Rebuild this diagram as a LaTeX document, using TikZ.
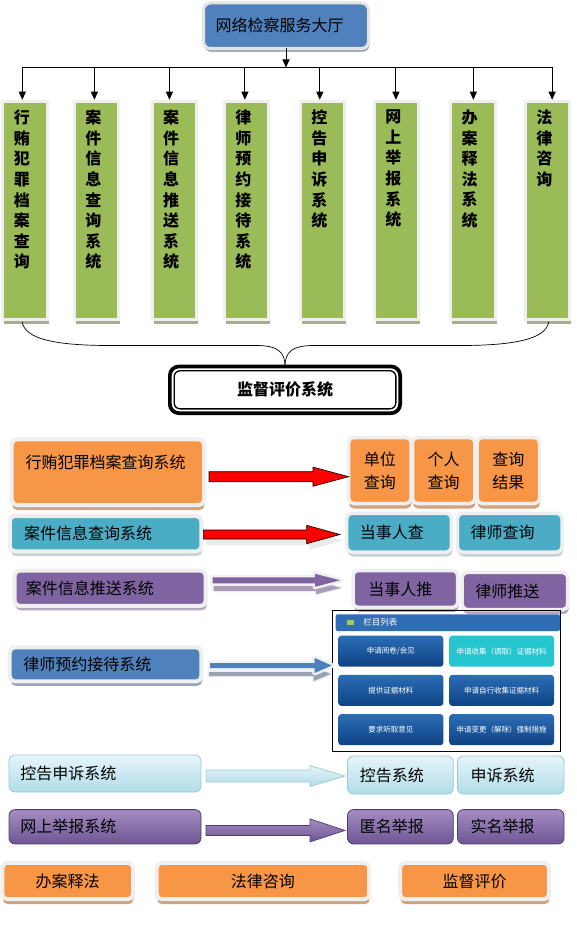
\documentclass[tikz,border=0pt]{standalone}
\usepackage{fontspec}
\setmainfont{Noto Sans CJK SC}
\usetikzlibrary{calc,shadows,arrows.meta}

\definecolor{cblue}{HTML}{4F81BD}
\definecolor{cgreen}{HTML}{9BBB59}
\definecolor{corange}{HTML}{F79646}
\definecolor{cteal}{HTML}{4BACC6}
\definecolor{cpurple}{HTML}{8064A2}
\definecolor{cframe}{HTML}{EFEFEF}
\definecolor{topframe}{HTML}{E4E4E4}
\definecolor{topshadow}{HTML}{A7AFBF}
\definecolor{gshadow}{HTML}{A8AE8F}
\definecolor{oshadow}{HTML}{D3A17B}
\definecolor{tshadow}{HTML}{C4D3D8}
\definecolor{pshadow}{HTML}{B3A9C0}
\definecolor{bshadow}{HTML}{98A4B8}
\definecolor{ltop}{HTML}{E6F5F9}
\definecolor{lbot}{HTML}{B0DCE8}
\definecolor{ledge}{HTML}{9CC8D6}
\definecolor{ptop}{HTML}{A38DC2}
\definecolor{pbot}{HTML}{6F5694}
\definecolor{pedge}{HTML}{4E3C6C}
\definecolor{btop}{HTML}{2B6DB6}
\definecolor{bbot}{HTML}{0E4283}
\definecolor{bcyan}{HTML}{25C6CF}
\definecolor{hbar}{HTML}{2F6DB5}
\definecolor{icongreen}{HTML}{A4C85A}
\definecolor{parrsh}{HTML}{A99CB8}
\definecolor{barrsh}{HTML}{98A2B4}
\definecolor{arrgrey}{HTML}{EBEBEB}
\definecolor{arrframe}{HTML}{F0F0F0}

% #1 style, #2 start, #3 end, #4 shaft half, #5 head half, #6 head length
\newcommand\barrow[6]{%
  \path[#1] let \p1=(#2), \p2=(#3) in
    (\x1,\y1-#4pt) -- (\x2-#6pt,\y1-#4pt) -- (\x2-#6pt,\y1-#5pt) -- (\x2,\y1)
    -- (\x2-#6pt,\y1+#5pt) -- (\x2-#6pt,\y1+#4pt) -- (\x1,\y1+#4pt) -- cycle;}

\tikzset{
  every node/.style={inner sep=0pt, outer sep=0pt},
  txt/.style={font=\fontsize{16}{20}\selectfont},
  col/.style={draw=cframe, line width=3pt, fill=cgreen, minimum width=44.5pt,
    minimum height=217.7pt,
    drop shadow={shadow xshift=1.5pt, shadow yshift=-4.5pt, fill=gshadow, opacity=1}},
  coltxt/.style={anchor=north, align=center, font=\fontsize{16}{20.6}\selectfont\bfseries},
  fbox/.style={draw=cframe, line width=4pt, rounded corners=5pt, txt},
  sbox/.style={draw=cframe, line width=3.5pt, rounded corners=5pt, txt},
  lbox/.style={align=left, txt},
  oshad/.style={drop shadow={shadow xshift=0.5pt, shadow yshift=-5pt, fill=oshadow, opacity=1}},
  tshad/.style={drop shadow={shadow xshift=1pt, shadow yshift=-4.5pt, fill=tshadow, opacity=1}},
  pshad/.style={drop shadow={shadow xshift=1pt, shadow yshift=-4.5pt, fill=pshadow, opacity=1}},
  bshad/.style={drop shadow={shadow xshift=1pt, shadow yshift=-4.5pt, fill=bshadow, opacity=1}},
  lightbox/.style={draw=ledge, line width=0.8pt, rounded corners=6pt, top color=ltop, bottom color=lbot, txt},
  purbox/.style={draw=pedge, line width=0.8pt, rounded corners=6pt, top color=ptop, bottom color=pbot, txt},
  carr/.style={line width=0.9pt, -{Triangle[width=7pt,length=8pt]}},
  afr/.style={fill=arrframe, draw=arrframe, line join=round, line width=#1},
  pbtn/.style={rounded corners=3pt, top color=btop, bottom color=bbot, text=white,
    minimum height=31pt, font=\fontsize{7.5}{9}\selectfont},
}

\begin{document}
\begin{tikzpicture}[x=1pt,y=-1pt]
\fill[white] (0,0) rectangle (576,931);
\useasboundingbox (0,0) rectangle (576,931);

% ---------- top ----------
\node[draw=topframe, line width=3pt, rounded corners=7pt, fill=cblue, text width=141pt,
  inner xsep=12pt, minimum height=45.5pt, align=left, txt,
  drop shadow={shadow xshift=1pt, shadow yshift=-3.5pt, fill=topshadow, opacity=1}]
  (top) at (286,25.75) {网络检察服务大厅};

\coordinate (hl) at (0,67.5);

\foreach \n/\x in {1/25.15, 2/96.65, 3/174.5, 4/246.65, 5/322.65, 6/396.65, 7/472.8, 8/547.65}
  \node[col] (c\n) at (\x,210.6) {};

\node[coltxt] (c1t) at ($(c1.north)+(-3.3,8.2)$) {行\\贿\\犯\\罪\\档\\案\\查\\询};
\node[coltxt] (c2t) at ($(c2.north)+(-3.3,8.2)$) {案\\件\\信\\息\\查\\询\\系\\统};
\node[coltxt] (c3t) at ($(c3.north)+(-3.3,8.2)$) {案\\件\\信\\息\\推\\送\\系\\统};
\node[coltxt] (c4t) at ($(c4.north)+(-3.3,8.2)$) {律\\师\\预\\约\\接\\待\\系\\统};
\node[coltxt] (c5t) at ($(c5.north)+(-3.3,8.2)$) {控\\告\\申\\诉\\系\\统};
\node[coltxt] (c6t) at ($(c6.north)+(-3.3,8.2)$) {网\\上\\举\\报\\系\\统};
\node[coltxt] (c7t) at ($(c7.north)+(-3.3,8.2)$) {办\\案\\释\\法\\系\\统};
\node[coltxt] (c8t) at ($(c8.north)+(-3.3,8.2)$) {法\\律\\咨\\询};

\coordinate (u1) at ($(c1.north)+(-2.85,-2)$);
\coordinate (u2) at ($(c2.north)+(-2.25,-2)$);
\coordinate (u3) at ($(c3.north)+(-5.1,-2)$);
\coordinate (u4) at ($(c4.north)+(-1.75,-2)$);
\coordinate (u5) at ($(c5.north)+(-2.85,-2)$);
\coordinate (u6) at ($(c6.north)+(-0.75,-2)$);
\coordinate (u7) at ($(c7.north)+(0.5,-2)$);
\coordinate (u8) at ($(c8.north)+(4.45,-2)$);

\draw[line width=0.9pt] (u1 |- hl) -- (u8 |- hl);
\draw[carr] (top.south) -- (top.south |- hl);
\foreach \i in {1,...,8} \draw[carr] (u\i |- hl) -- (u\i);

% ---------- supervision box ----------
\node[draw=black, line width=3.7pt, rounded corners=9pt, fill=white, minimum width=230.3pt,
  minimum height=46.7pt, font=\fontsize{16}{20}\selectfont\bfseries] (jd) at (285,389.8) {监督评价系统};
\draw[line width=1.3pt, rounded corners=6pt] ($(jd.north west)+(4.3,4.3)$) rectangle ($(jd.south east)+(-4.3,-4.3)$);

\coordinate (bl) at ($(c1.south)+(-3,2.5)$);
\coordinate (br) at ($(c8.south)+(1,2.5)$);
\draw[line width=0.7pt] (bl) .. controls (25,339) and (55,345.5) .. (110,345.5) -- (256,345.5)
  .. controls (278,345.5) and (285,352) .. (jd.north)
  .. controls (285,352) and (292,345.5) .. (314,345.5) -- (460,345.5)
  .. controls (515,345.5) and (546,339) .. (br);

% ---------- row 1 ----------
\node[fbox, fill=corange, oshad, minimum width=192.3pt, minimum height=65.6pt] (r1) at (107.85,472.2) {};
\node[txt, anchor=west] (r1t) at ($(r1.west)+(14,-10)$) {行贿犯罪档案查询系统};
\node[sbox, fill=corange, oshad, minimum width=62.6pt, minimum height=66pt, align=center,
  font=\fontsize{16}{23}\selectfont] (r1a) at (379.8,470.5) {单位\\查询};
\node[sbox, fill=corange, oshad, minimum width=62.4pt, minimum height=66pt, align=center,
  font=\fontsize{16}{23}\selectfont] (r1b) at (443.7,470.5) {个人\\查询};
\node[sbox, fill=corange, oshad, minimum width=62.4pt, minimum height=66pt, align=center,
  font=\fontsize{16}{23}\selectfont] (r1c) at (508.3,470.5) {查询\\结果};

\coordinate (a1s) at ($(r1.east)+(5,4.5)$);
\coordinate (a1e) at ($(r1a.west)+(0.2,6.2)$);
\barrow{fill=red, draw=black, line width=0.6pt}{a1s}{a1e}{5}{9.6}{35.7}

% ---------- row 2 ----------
\node[fbox, fill=cteal, tshad, lbox, minimum height=35.3pt, text width=163.1pt, inner xsep=14.2pt] (r2) at (105.55,533.65) {案件信息查询系统};
\node[fbox, fill=cteal, tshad, lbox, minimum height=38.7pt, text width=78.5pt, inner xsep=13.1pt, line width=3.5pt] (r2a) at (399.05,532.65) {当事人查};
\node[fbox, fill=cteal, tshad, lbox, minimum height=38.7pt, text width=78.4pt, inner xsep=13.1pt, line width=3.5pt] (r2b) at (509.7,532.65) {律师查询};

\coordinate (a2s) at ($(r2.east)+(2,0.85)$);
\coordinate (a2e) at ($(r2a.west)+(-6.7,1.85)$);
\coordinate (a2ss) at ($(a2s)+(3,6)$);
\coordinate (a2se) at ($(a2e)+(3,6)$);
\barrow{fill=arrgrey}{a2ss}{a2se}{4.5}{9.2}{33.3}
\barrow{fill=red, draw=black, line width=0.6pt}{a2s}{a2e}{4.5}{9.2}{33.3}

% ---------- row 3 ----------
\node[fbox, fill=cpurple, pshad, lbox, minimum height=35.4pt, text width=168.7pt, inner xsep=11.2pt] (r3) at (110.15,588.2) {案件信息推送系统};
\node[fbox, fill=cpurple, pshad, lbox, minimum height=36.9pt, text width=74.1pt, inner xsep=15.3pt, line width=3.5pt] (r3a) at (405.35,588.95) {当事人推};
\node[fbox, fill=cpurple, pshad, lbox, minimum height=37.2pt, text width=79.3pt, inner xsep=13.1pt, line width=3.5pt] (r3b) at (514.95,591) {律师推送};

\coordinate (a3s) at ($(r3.east)+(7,-7.9)$);
\coordinate (a3e) at ($(r3a.west)+(-13,-8.65)$);
\coordinate (a3ss) at ($(a3s)+(1,7.5)$);
\coordinate (a3se) at ($(a3e)+(1,7.5)$);
\barrow{afr=3pt}{a3ss}{a3se}{3}{6.5}{25}
\barrow{fill=parrsh}{a3ss}{a3se}{3}{6.5}{25}
\barrow{afr=5pt}{a3s}{a3e}{3}{6.5}{25}
\barrow{fill=cpurple}{a3s}{a3e}{3}{6.5}{25}

% ---------- row 4 ----------
\node[fbox, fill=cblue, bshad, lbox, minimum height=34pt, text width=164.4pt, inner xsep=13.6pt] (r4) at (105.5,664.3) {律师预约接待系统};

\node[draw=black, line width=1pt, minimum width=228pt, minimum height=141pt] (pn) at (446.7,680.5) {};
\node[fill=hbar, rounded corners=2pt, minimum width=224.3pt, minimum height=16.7pt] (ph) at (447.85,622.65) {};
\node[fill=icongreen, minimum width=6.7pt, minimum height=4.5pt] (pi) at (350.65,622.7) {};
\node[anchor=west, text=white, font=\fontsize{8.5}{10}\selectfont] (pht) at (363.3,622.7) {栏目列表};
\node[pbtn, minimum width=105pt] (b1) at (390.8,651.2) {申请阅卷/会见};
\node[pbtn, minimum width=104.7pt, top color=bcyan, bottom color=bcyan] (b2) at (501.65,651.2) {申请收集（调取）证据材料};
\node[pbtn, minimum width=105pt] (b3) at (390.8,690.35) {提供证据材料};
\node[pbtn, minimum width=104.7pt] (b4) at (501.65,690.35) {申请自行收集证据材料};
\node[pbtn, minimum width=105pt] (b5) at (390.8,729.65) {要求听取意见};
\node[pbtn, minimum width=104.7pt] (b6) at (501.65,729.65) {申请变更（解除）强制措施};

\coordinate (a4s) at ($(r4.east)+(8.7,1.2)$);
\coordinate (a4e) at ($(pn.west)+(-1,-15)$);
\coordinate (a4ss) at ($(a4s)+(-1,8.5)$);
\coordinate (a4se) at ($(a4e)+(-1,8.5)$);
\barrow{afr=3pt}{a4ss}{a4se}{2}{7}{17}
\barrow{fill=barrsh}{a4ss}{a4se}{2}{7}{17}
\barrow{afr=5pt}{a4s}{a4e}{2.5}{7.5}{17}
\barrow{fill=cblue}{a4s}{a4e}{2.5}{7.5}{17}

% ---------- row 5 ----------
\node[lightbox, lbox, minimum height=37pt, text width=169.4pt, inner xsep=11.3pt] (r5) at (105,773.5) {控告申诉系统};
\node[lightbox, lbox, minimum height=38pt, text width=81.2pt, inner xsep=12.3pt] (r5a) at (400.4,775) {控告系统};
\node[lightbox, lbox, minimum height=38pt, text width=80.5pt, inner xsep=13pt] (r5b) at (510.75,775) {申诉系统};

\coordinate (a5s) at ($(r5.east)+(5,2.5)$);
\coordinate (a5e) at ($(r5a.west)+(-2.5,1)$);
\barrow{top color=ltop, bottom color=lbot, draw=ledge, line width=0.7pt}{a5s}{a5e}{6}{10.5}{35}

% ---------- row 6 ----------
\node[purbox, lbox, minimum height=34.3pt, text width=169.4pt, inner xsep=11.3pt] (r6) at (105,826.75) {网上举报系统};
\node[purbox, lbox, minimum height=34.3pt, text width=81.2pt, inner xsep=12.3pt] (r6a) at (400.4,826.75) {匿名举报};
\node[purbox, lbox, minimum height=34.3pt, text width=80.5pt, inner xsep=13pt] (r6b) at (510.75,826.75) {实名举报};

\coordinate (a6s) at ($(r6.east)+(5,3.65)$);
\coordinate (a6e) at ($(r6a.west)+(-2.5,3.65)$);
\barrow{top color=ptop, bottom color=pbot, draw=pedge, line width=0.7pt}{a6s}{a6e}{5}{11.5}{35}

% ---------- row 7 ----------
\node[fbox, fill=corange, oshad, minimum width=130.6pt, minimum height=36.4pt] (r7a) at (67.7,881) {办案释法};
\node[fbox, fill=corange, oshad, minimum width=212.5pt, minimum height=36.4pt] (r7b) at (262.95,881) {法律咨询};
\node[fbox, fill=corange, oshad, minimum width=148.7pt, minimum height=36.4pt] (r7c) at (474.55,881) {监督评价};
\end{tikzpicture}
\end{document}
